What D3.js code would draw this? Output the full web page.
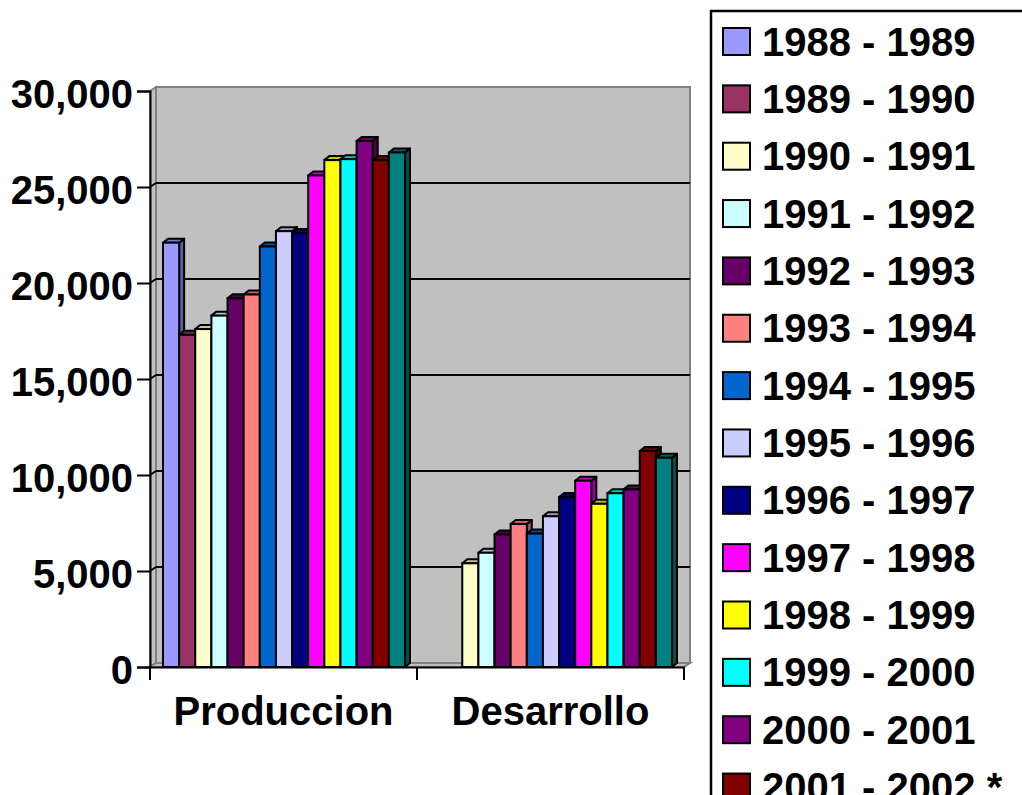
<!DOCTYPE html>
<html>
<head>
<meta charset="utf-8">
<script src="https://d3js.org/d3.v7.min.js"></script>
<style>
  body { margin: 0; background: #fff; overflow: hidden; }
  text { font-family: "Liberation Sans", Arial, sans-serif; font-weight: bold; fill: #000; }
</style>
</head>
<body>
<script>
// chart values
var categories = ["Produccion", "Desarrollo"];
var periods = ["1988 - 1989", "1989 - 1990", "1990 - 1991", "1991 - 1992", "1992 - 1993",
               "1993 - 1994", "1994 - 1995", "1995 - 1996", "1996 - 1997", "1997 - 1998",
               "1998 - 1999", "1999 - 2000", "2000 - 2001", "2001 - 2002 *", "2002 - 2003 *"];
var produccion = [22100, 17300, 17600, 18300, 19200, 19400, 21900, 22700, 22600,
                  25600, 26400, 26450, 27400, 26400, 26800];
var desarrollo = [0, 0, 5400, 5950, 6900, 7450, 6950, 7850, 8850,
                  9700, 8500, 9050, 9250, 11250, 10900];
var colors = ["#9999FF", "#993366", "#FFFFCC", "#CCFFFF", "#660066", "#FF8080", "#0066CC",
              "#CCCCFF", "#000080", "#FF00FF", "#FFFF00", "#00FFFF", "#800080", "#800000", "#008080"];
var yTicks = [0, 5000, 10000, 15000, 20000, 25000, 30000];

var width = 1022, height = 795;
var margin = {top: 91, left: 150, right: 338, bottom: 128};
var depthX = 6, depthY = 4;   // 3d offset of the back wall
var barDX = 5, barDY = 4;     // 3d offset of each bar
var fontSize = "40px";

var svg = d3.select("body").append("svg")
    .attr("width", width)
    .attr("height", height);

var x0 = d3.scaleBand().domain(categories)
    .range([margin.left, width - margin.right]);
var x1 = d3.scaleBand().domain(periods)
    .range([13, x0.bandwidth() - 12]);
var y = d3.scaleLinear().domain([0, 30000])
    .range([height - margin.bottom, margin.top]);

var left = x0.range()[0], right = x0.range()[1];
var y0 = y(0), yTop = y(30000);

// back wall, left wall, floor
svg.append("rect")
    .attr("x", left + depthX).attr("y", yTop - depthY)
    .attr("width", right - left).attr("height", y0 - yTop)
    .attr("fill", "#c0c0c0").attr("stroke", "#808080").attr("stroke-width", 2);
svg.append("polygon")
    .attr("points", [[left, yTop], [left + depthX, yTop - depthY], [left + depthX, y0 - depthY], [left, y0]].join(" "))
    .attr("fill", "#c0c0c0").attr("stroke", "#808080").attr("stroke-width", 2);
svg.append("polygon")
    .attr("points", [[left, y0], [left + depthX, y0 - depthY], [right + depthX, y0 - depthY], [right, y0]].join(" "))
    .attr("fill", "#c0c0c0").attr("stroke", "#808080").attr("stroke-width", 2);

// gridlines on the back wall
var grid = svg.append("g");
yTicks.filter(function(d) { return d > 0 && d < 30000; }).forEach(function(d) {
  grid.append("line")
      .attr("x1", left + depthX).attr("x2", right + depthX)
      .attr("y1", y(d) - depthY).attr("y2", y(d) - depthY)
      .attr("stroke", "#000").attr("stroke-width", 2);
  grid.append("line")
      .attr("x1", left).attr("x2", left + depthX)
      .attr("y1", y(d)).attr("y2", y(d) - depthY)
      .attr("stroke", "#000").attr("stroke-width", 2);
});

// bars
var rows = [];
categories.forEach(function(c, ci) {
  var vals = ci === 0 ? produccion : desarrollo;
  periods.forEach(function(p, i) {
    if (vals[i] > 0) rows.push({cat: c, period: p, value: vals[i], color: colors[i]});
  });
});

var bars = svg.append("g").selectAll("g")
    .data(rows)
    .enter().append("g");

bars.append("polygon") // side
    .attr("points", function(d) {
      var bx = x0(d.cat) + x1(d.period), w = x1.bandwidth(), yv = y(d.value);
      return [[bx + w, yv], [bx + w + barDX, yv - barDY], [bx + w + barDX, y0 - barDY], [bx + w, y0]].join(" ");
    })
    .attr("fill", function(d) { return d3.color(d.color).darker(1.4); })
    .attr("stroke", "#000").attr("stroke-width", 2).attr("stroke-linejoin", "round");

bars.append("polygon") // top
    .attr("points", function(d) {
      var bx = x0(d.cat) + x1(d.period), w = x1.bandwidth(), yv = y(d.value);
      return [[bx, yv], [bx + barDX, yv - barDY], [bx + w + barDX, yv - barDY], [bx + w, yv]].join(" ");
    })
    .attr("fill", function(d) { return d3.color(d.color).darker(0.7); })
    .attr("stroke", "#000").attr("stroke-width", 2).attr("stroke-linejoin", "round");

bars.append("rect") // front
    .attr("x", function(d) { return x0(d.cat) + x1(d.period); })
    .attr("y", function(d) { return y(d.value); })
    .attr("width", x1.bandwidth())
    .attr("height", function(d) { return y0 - y(d.value); })
    .attr("fill", function(d) { return d.color; })
    .attr("stroke", "#000").attr("stroke-width", 2);

// axes
var yAxis = svg.append("g")
    .attr("transform", "translate(" + left + ",0)")
    .call(d3.axisLeft(y).tickValues(yTicks).tickFormat(d3.format(",")).tickSize(13).tickPadding(4));
yAxis.select(".domain").attr("stroke", "#000").attr("stroke-width", 2);
yAxis.selectAll(".tick line").attr("stroke", "#000").attr("stroke-width", 2);
yAxis.selectAll(".tick text")
    .style("font-size", fontSize).style("font-family", "'Liberation Sans', Arial, sans-serif")
    .style("font-weight", "bold").attr("dy", "0.40em");

var xAxis = svg.append("g")
    .attr("transform", "translate(0," + y0 + ")")
    .call(d3.axisBottom(x0).tickValues([]).tickSizeOuter(0));
xAxis.select(".domain").attr("stroke", "#000").attr("stroke-width", 2);
var xTickPos = [left].concat(categories.map(function(c) { return x0(c) + x0.bandwidth(); }));
xAxis.selectAll(".xt").data(xTickPos).enter().append("line")
    .attr("x1", function(d) { return d; }).attr("x2", function(d) { return d; })
    .attr("y1", 0).attr("y2", 13)
    .attr("stroke", "#000").attr("stroke-width", 2);
xAxis.selectAll(".cat").data(categories).enter().append("text")
    .attr("x", function(d) { return x0(d) + x0.bandwidth() / 2; })
    .attr("y", 58)
    .attr("text-anchor", "middle")
    .style("font-size", fontSize)
    .text(function(d) { return d; });

// legend
var legend = svg.append("g");
legend.append("rect")
    .attr("x", 711).attr("y", 11).attr("width", 340).attr("height", 900)
    .attr("fill", "#fff").attr("stroke", "#000").attr("stroke-width", 2.5);
var item = legend.selectAll(".item").data(periods).enter().append("g")
    .attr("transform", function(d, i) { return "translate(723," + (41.5 + i * 57.35) + ")"; });
item.append("rect")
    .attr("x", 0).attr("y", -13.5).attr("width", 27).attr("height", 27)
    .attr("fill", function(d, i) { return colors[i]; })
    .attr("stroke", "#000").attr("stroke-width", 2);
item.append("text")
    .attr("x", 39).attr("y", 14)
    .style("font-size", fontSize)
    .text(function(d) { return d; });
</script>
</body>
</html>
